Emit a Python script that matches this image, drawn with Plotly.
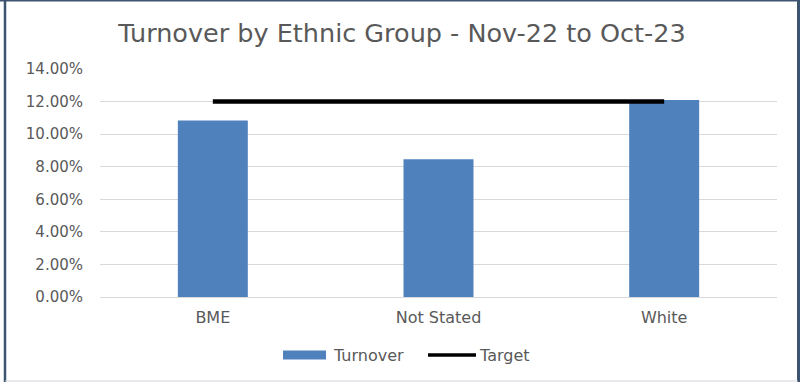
import plotly.graph_objects as go

# Data
categories = ["BME", "Not Stated", "White"]
turnover = [10.84, 8.46, 12.10]   # percent
target = [12.0, 12.0, 12.0]       # percent
y_ticks = [0, 2, 4, 6, 8, 10, 12, 14]
y_tick_labels = [f"{v:.2f}%" for v in y_ticks]

W, H = 800, 382
ML, MR, MT, MB = 100, 23, 69, 85
PW, PH = W - ML - MR, H - MT - MB

def px_x(p):
    return (p - ML) / PW

def px_y(p):
    return (H - MB - p) / PH

FONT = "DejaVu Sans"
TXT = "#595959"
BLUE = "#4F81BD"

fig = go.Figure()
fig.add_trace(go.Bar(
    x=categories, y=turnover, name="Turnover",
    marker=dict(color=BLUE, line=dict(width=0)), width=0.31,
    showlegend=False,
))
fig.add_trace(go.Scatter(
    x=categories, y=target, name="Target", mode="lines",
    line=dict(color="black", width=4.5), showlegend=False,
))

shapes = []
annotations = []

# Legend (drawn manually so the swatches have Excel-like proportions)
ly = px_y(355)
shapes.append(dict(type="rect", xref="paper", yref="paper",
                   x0=px_x(283), x1=px_x(326), y0=px_y(359.5), y1=px_y(350.5),
                   fillcolor=BLUE, line=dict(width=0)))
annotations.append(dict(text="Turnover", xref="paper", yref="paper",
                        x=px_x(331), y=ly, xanchor="left", yanchor="middle",
                        showarrow=False, font=dict(family=FONT, size=16, color=TXT)))
shapes.append(dict(type="line", xref="paper", yref="paper",
                   x0=px_x(428), x1=px_x(476), y0=ly, y1=ly,
                   line=dict(color="black", width=3.5)))
annotations.append(dict(text="Target", xref="paper", yref="paper",
                        x=px_x(477), y=ly, xanchor="left", yanchor="middle",
                        showarrow=False, font=dict(family=FONT, size=16, color=TXT)))

# Chart frame
frame = "#3D5470"
shapes.append(dict(type="line", xref="paper", yref="paper",
                   x0=px_x(5), x1=px_x(5), y0=px_y(0), y1=px_y(382),
                   line=dict(color=frame, width=2.5)))
shapes.append(dict(type="line", xref="paper", yref="paper",
                   x0=px_x(798.5), x1=px_x(798.5), y0=px_y(0), y1=px_y(382),
                   line=dict(color=frame, width=3)))
shapes.append(dict(type="line", xref="paper", yref="paper",
                   x0=px_x(0), x1=px_x(800), y0=px_y(0.8), y1=px_y(0.8),
                   line=dict(color=frame, width=1.6)))
shapes.append(dict(type="line", xref="paper", yref="paper",
                   x0=px_x(5), x1=px_x(798), y0=px_y(381), y1=px_y(381),
                   line=dict(color="#D0D4DA", width=1)))

fig.update_layout(
    width=W, height=H,
    margin=dict(l=ML, r=MR, t=MT, b=MB),
    paper_bgcolor="white", plot_bgcolor="white",
    title=dict(text="Turnover by Ethnic Group - Nov-22 to Oct-23",
               x=402 / W, xanchor="center", xref="container",
               y=1 - 33 / H, yanchor="middle", yref="container",
               font=dict(family=FONT, size=25.5, color=TXT)),
    xaxis=dict(showgrid=False, showline=False, ticks="",
               tickfont=dict(family=FONT, size=16, color=TXT),
               ticklabelstandoff=9),
    yaxis=dict(range=[0, 14], tickvals=y_ticks, ticktext=y_tick_labels,
               showgrid=True, gridcolor="#D9D9D9", gridwidth=1,
               zeroline=True, zerolinecolor="#D9D9D9", zerolinewidth=1,
               showline=False, ticks="",
               tickfont=dict(family=FONT, size=15, color=TXT),
               ticklabelstandoff=16),
    shapes=shapes, annotations=annotations,
    showlegend=False,
)

fig.write_html("out.html")
